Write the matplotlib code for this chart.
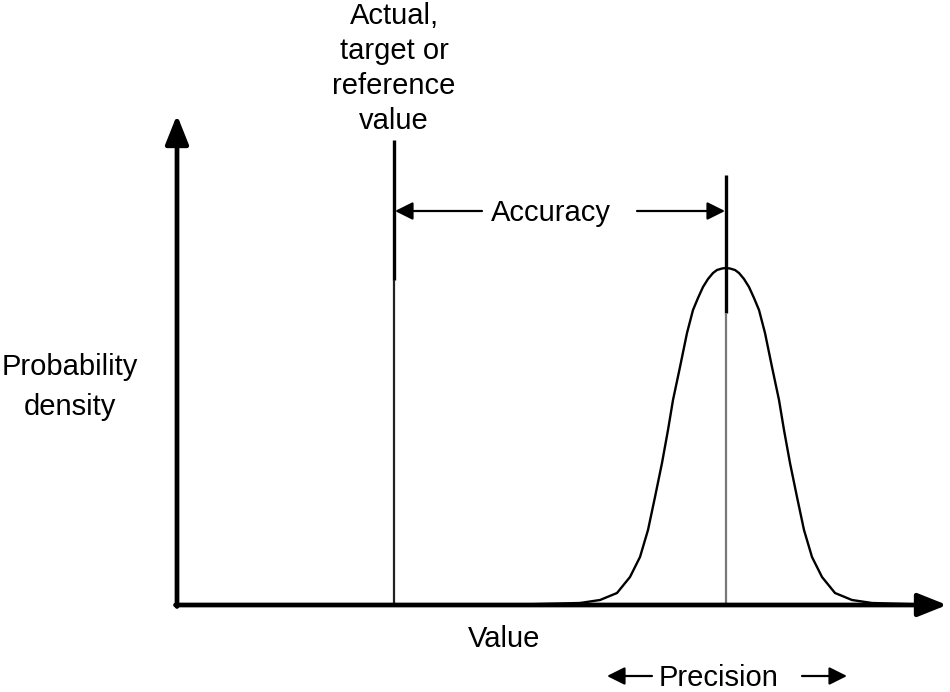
import matplotlib
matplotlib.use("Agg")
import matplotlib.pyplot as plt

# ---- data (value axis units, density units) ----
reference_value = 394
measured_mean = 726
peak_density = 337

curve_x = [500, 580, 600, 617, 630, 640, 648, 655, 662, 668, 673, 680, 687, 693,
           698, 703, 708, 713, 717, 722, 726, 730, 735, 739, 744, 749, 754, 759,
           765, 772, 779, 784, 790, 797, 804, 812, 822, 835, 852, 872, 940]
curve_density = [0, 2, 5, 12, 28, 48, 75, 108, 142, 175, 205, 238, 272, 295,
                 307, 318, 326, 332, 335, 336.5, 337, 336.5, 335, 332, 326, 318, 307, 295,
                 272, 238, 205, 175, 142, 108, 75, 48, 28, 12, 5, 2, 0]

label_reference = "Actual,\ntarget or\nreference\nvalue"
label_accuracy = "Accuracy"
label_precision = "Precision"
label_ylabel = "Probability\ndensity"
label_xlabel = "Value"

# ---- figure ----
plt.rcParams['font.family'] = ['Liberation Sans', 'DejaVu Sans']
fig = plt.figure(figsize=(9.5, 6.92), dpi=100)
ax = fig.add_axes([0, 0, 1, 1])
ax.set_xlim(0, 950)
ax.set_ylim(-87, 605)
ax.axis('off')

origin_x = 177
fs = 21

# axes with arrowheads
ax.annotate('', xy=(origin_x, 490), xytext=(origin_x, -1.5),
            arrowprops=dict(arrowstyle='-|>,head_length=0.55,head_width=0.22',
                            lw=3.4, color='black', mutation_scale=32,
                            shrinkA=0, shrinkB=0))
ax.annotate('', xy=(947, 0), xytext=(origin_x - 1.5, 0),
            arrowprops=dict(arrowstyle='-|>,head_length=0.55,head_width=0.22',
                            lw=3.4, color='black', mutation_scale=32,
                            shrinkA=0, shrinkB=0))

# reference value line
ax.plot([reference_value, reference_value], [465, 325], color='black', lw=2.4,
        solid_capstyle='butt')
ax.plot([reference_value, reference_value], [325, 0], color='#222222', lw=1.6,
        solid_capstyle='butt')

# mean line
ax.plot([measured_mean, measured_mean], [430, 292], color='black', lw=2.4,
        solid_capstyle='butt')
ax.plot([measured_mean, measured_mean], [292, 0], color='#777777', lw=1.6,
        solid_capstyle='butt')

# bell curve
ax.plot(curve_x, curve_density, color='black', lw=1.7, solid_joinstyle='round')

# accuracy arrows
acc_y = 394
ax.annotate('', xy=(reference_value + 1, acc_y), xytext=(482, acc_y),
            arrowprops=dict(arrowstyle='-|>,head_length=0.9,head_width=0.45',
                            lw=1.6, color='black', mutation_scale=12,
                            shrinkA=0, shrinkB=0))
ax.annotate('', xy=(measured_mean - 1, acc_y), xytext=(637, acc_y),
            arrowprops=dict(arrowstyle='-|>,head_length=0.9,head_width=0.45',
                            lw=1.6, color='black', mutation_scale=12,
                            shrinkA=0, shrinkB=0))
ax.text(551, acc_y - 2, label_accuracy, ha='center', va='center', fontsize=fs)

# precision arrows
pre_y = 605 - 676
ax.annotate('', xy=(607, pre_y), xytext=(652, pre_y),
            arrowprops=dict(arrowstyle='-|>,head_length=0.9,head_width=0.45',
                            lw=1.6, color='black', mutation_scale=12,
                            shrinkA=0, shrinkB=0))
ax.annotate('', xy=(847, pre_y), xytext=(802, pre_y),
            arrowprops=dict(arrowstyle='-|>,head_length=0.9,head_width=0.45',
                            lw=1.6, color='black', mutation_scale=12,
                            shrinkA=0, shrinkB=0))
ax.text(719, pre_y - 2, label_precision, ha='center', va='center', fontsize=fs)

# labels
ax.text(reference_value, 605 - 2, label_reference, ha='center', va='top',
        fontsize=fs, linespacing=1.32)
ax.text(70, 605 - 387, label_ylabel, ha='center', va='center', fontsize=fs,
        linespacing=1.55)
ax.text(504, 605 - 639, label_xlabel, ha='center', va='center', fontsize=fs)

fig.savefig('out.png', dpi=100, facecolor='white')
